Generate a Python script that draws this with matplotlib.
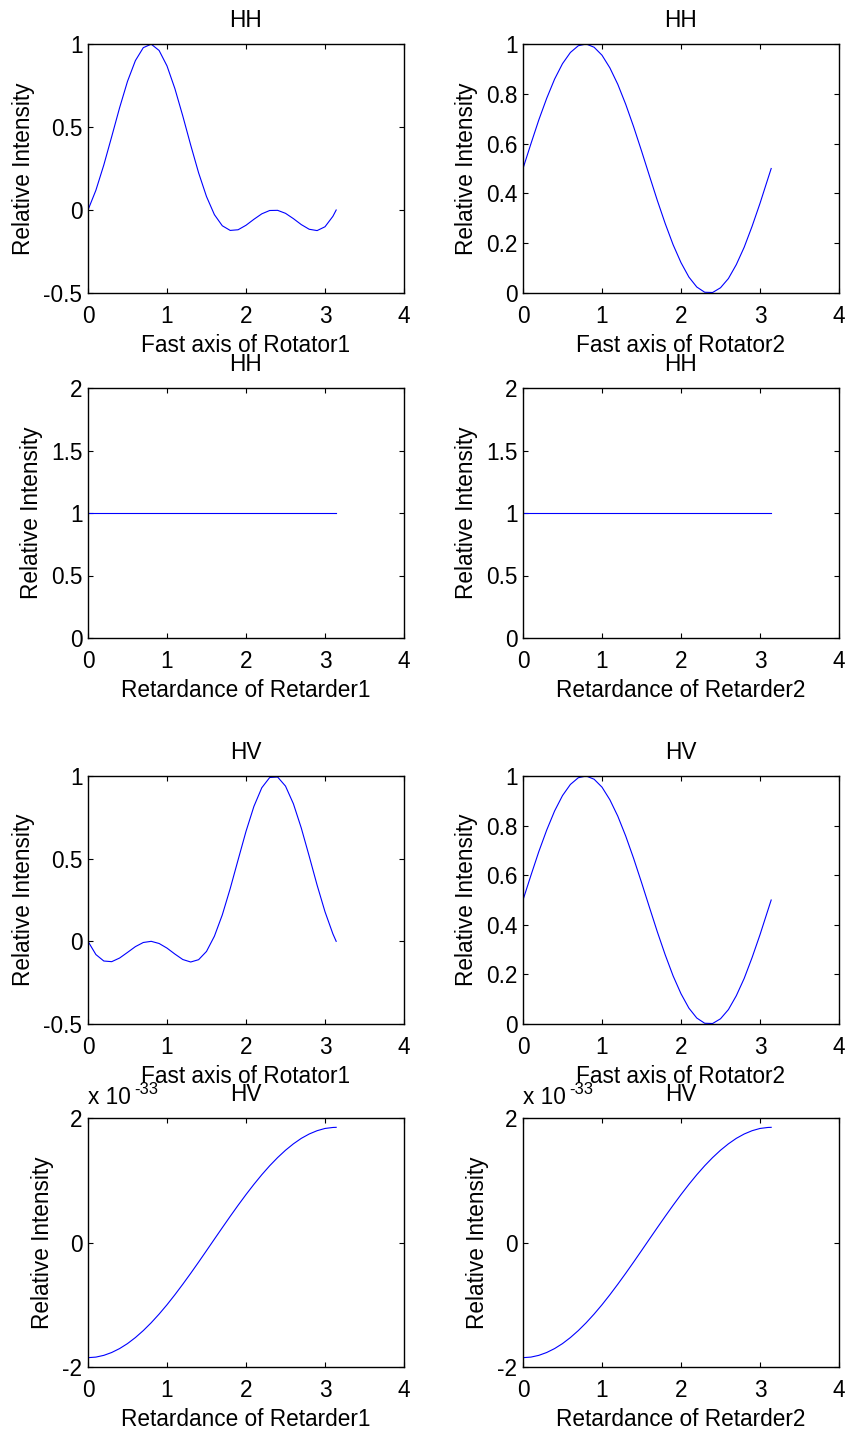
import matplotlib
matplotlib.use("Agg")
import matplotlib.pyplot as plt
from matplotlib.ticker import FixedLocator, FixedFormatter

plt.rcParams['font.family'] = ['Liberation Sans', 'DejaVu Sans']
plt.rcParams['axes.unicode_minus'] = False

# ---------------- data ----------------
angle = [0.0, 0.1, 0.2, 0.3, 0.4, 0.5, 0.6, 0.7, 0.8, 0.9, 1.0, 1.1, 1.2, 1.3,
         1.4, 1.5, 1.6, 1.7, 1.8, 1.9, 2.0, 2.1, 2.2, 2.3, 2.4, 2.5, 2.6, 2.7,
         2.8, 2.9, 3.0, 3.1, 3.1416]

hh_rotator1 = [0.0, 0.119, 0.271, 0.442, 0.616, 0.775, 0.900, 0.978, 0.999,
               0.961, 0.868, 0.731, 0.566, 0.391, 0.224, 0.081, -0.028, -0.095,
               -0.123, -0.119, -0.092, -0.056, -0.023, -0.003, -0.002, -0.020,
               -0.052, -0.088, -0.116, -0.124, -0.101, -0.038, 0.0]

hh_rotator2 = [0.500, 0.599, 0.695, 0.782, 0.859, 0.921, 0.966, 0.993, 1.000,
               0.987, 0.955, 0.904, 0.838, 0.758, 0.668, 0.571, 0.471, 0.372,
               0.279, 0.194, 0.122, 0.064, 0.024, 0.003, 0.002, 0.021, 0.058,
               0.114, 0.184, 0.268, 0.360, 0.459, 0.500]

hh_retarder = [1.0] * len(angle)

hv_rotator1 = [0.0, -0.080, -0.119, -0.123, -0.101, -0.067, -0.032, -0.007,
               0.0, -0.013, -0.041, -0.077, -0.110, -0.125, -0.111, -0.061,
               0.031, 0.160, 0.319, 0.493, 0.665, 0.816, 0.929, 0.991, 0.994,
               0.939, 0.832, 0.685, 0.515, 0.340, 0.179, 0.045, 0.0]

hv_rotator2 = [0.500, 0.599, 0.695, 0.782, 0.859, 0.921, 0.966, 0.993, 1.000,
               0.987, 0.955, 0.904, 0.838, 0.758, 0.668, 0.571, 0.471, 0.372,
               0.279, 0.194, 0.122, 0.064, 0.024, 0.003, 0.002, 0.021, 0.058,
               0.114, 0.184, 0.268, 0.360, 0.459, 0.500]

hv_retarder_e33 = [-1.850, -1.841, -1.813, -1.767, -1.704, -1.624, -1.527,
                   -1.415, -1.289, -1.150, -1.000, -0.839, -0.670, -0.495,
                   -0.315, -0.131, 0.054, 0.238, 0.420, 0.598, 0.770, 0.934,
                   1.089, 1.233, 1.364, 1.482, 1.585, 1.673, 1.743, 1.796,
                   1.832, 1.848, 1.850]
hv_retarder = [v * 1e-33 for v in hv_retarder_e33]

x_ticks = [0, 1, 2, 3, 4]
x_tick_labels = ['0', '1', '2', '3', '4']

# ---------------- layout ----------------
W, H = 848, 1430
fig = plt.figure(figsize=(W / 100, H / 100), dpi=100)

def ax_px(x0, x1, y0, y1):
    return fig.add_axes([x0 / W, 1 - y1 / H, (x1 - x0) / W, (y1 - y0) / H])

cols = [(88, 404), (523, 839)]
rows = [(44, 293), (388, 638), (776, 1024), (1118, 1367)]

FS = 16.3

panels = [
    # row, col, y, title, xlabel, ylim, yticks, yticklabels
    (0, 0, hh_rotator1, 'HH', 'Fast axis of Rotator1', (-0.5, 1),
     [-0.5, 0, 0.5, 1], ['-0.5', '0', '0.5', '1']),
    (0, 1, hh_rotator2, 'HH', 'Fast axis of Rotator2', (0, 1),
     [0, 0.2, 0.4, 0.6, 0.8, 1], ['0', '0.2', '0.4', '0.6', '0.8', '1']),
    (1, 0, hh_retarder, 'HH', 'Retardance of Retarder1', (0, 2),
     [0, 0.5, 1, 1.5, 2], ['0', '0.5', '1', '1.5', '2']),
    (1, 1, hh_retarder, 'HH', 'Retardance of Retarder2', (0, 2),
     [0, 0.5, 1, 1.5, 2], ['0', '0.5', '1', '1.5', '2']),
    (2, 0, hv_rotator1, 'HV', 'Fast axis of Rotator1', (-0.5, 1),
     [-0.5, 0, 0.5, 1], ['-0.5', '0', '0.5', '1']),
    (2, 1, hv_rotator2, 'HV', 'Fast axis of Rotator2', (0, 1),
     [0, 0.2, 0.4, 0.6, 0.8, 1], ['0', '0.2', '0.4', '0.6', '0.8', '1']),
    (3, 0, hv_retarder, 'HV', 'Retardance of Retarder1', (-2e-33, 2e-33),
     [-2e-33, 0, 2e-33], ['-2', '0', '2']),
    (3, 1, hv_retarder, 'HV', 'Retardance of Retarder2', (-2e-33, 2e-33),
     [-2e-33, 0, 2e-33], ['-2', '0', '2']),
]

for r, c, yvals, title, xlabel, ylim, yt, ytl in panels:
    ax = ax_px(cols[c][0], cols[c][1], rows[r][0], rows[r][1])
    ax.plot(angle, yvals, color='#0000ff', lw=0.8)
    ax.set_xlim(0, 4)
    ax.set_ylim(*ylim)
    ax.xaxis.set_major_locator(FixedLocator(x_ticks))
    ax.xaxis.set_major_formatter(FixedFormatter(x_tick_labels))
    ax.yaxis.set_major_locator(FixedLocator(yt))
    ax.yaxis.set_major_formatter(FixedFormatter(ytl))
    ax.tick_params(direction='in', length=3.5, width=0.8, labelsize=FS,
                   top=True, right=True, pad=4)
    ax.tick_params(axis='x', pad=8.5)
    for sp in ax.spines.values():
        sp.set_linewidth(1.0)
    ax.set_title(title, fontsize=FS, pad=12.5)
    ax.set_xlabel(xlabel, fontsize=FS, labelpad=4.5)
    ax.set_ylabel('Relative Intensity', fontsize=FS, labelpad=6)
    if r == 3:
        ax.text(0.0, 1.035, 'x 10', transform=ax.transAxes, fontsize=FS,
                ha='left', va='bottom')
        ax.text(0.145, 1.085, '-33', transform=ax.transAxes, fontsize=12,
                ha='left', va='bottom')

fig.savefig('out.png', dpi=100)
